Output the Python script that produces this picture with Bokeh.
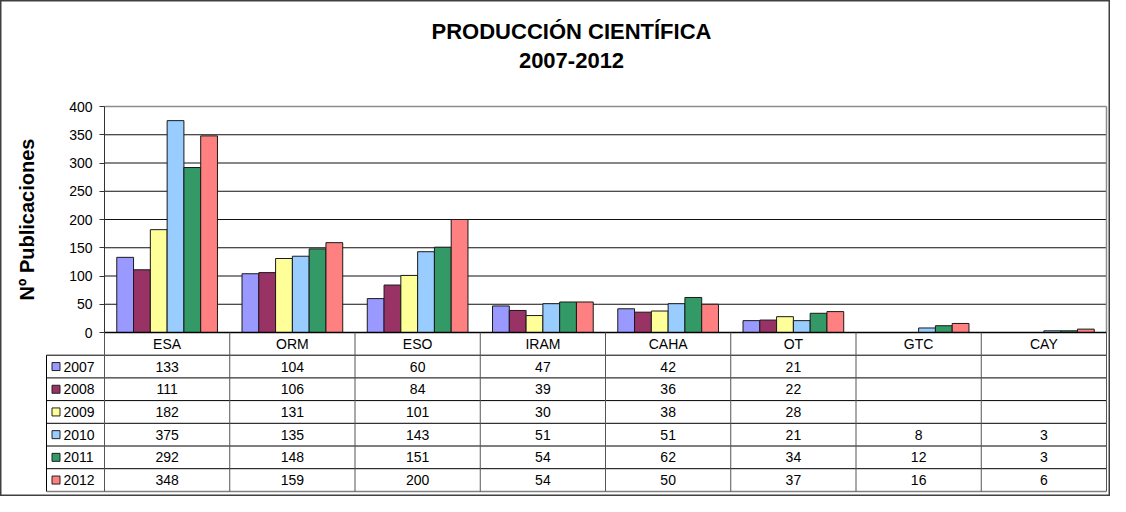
from bokeh.plotting import figure
from bokeh.models import Range1d, LinearAxis, FixedTicker, ColumnDataSource
from bokeh.embed import file_html
from bokeh.resources import INLINE
from bokeh.core.properties import value
import numpy as np

# ---------------- data ----------------
title_lines = ["PRODUCCIÓN CIENTÍFICA", "2007-2012"]
y_title = "Nº Publicaciones"
categories = ["ESA", "ORM", "ESO", "IRAM", "CAHA", "OT", "GTC", "CAY"]
years = ["2007", "2008", "2009", "2010", "2011", "2012"]
v2007 = [133, 104, 60, 47, 42, 21, None, None]
v2008 = [111, 106, 84, 39, 36, 22, None, None]
v2009 = [182, 131, 101, 30, 38, 28, None, None]
v2010 = [375, 135, 143, 51, 51, 21, 8, 3]
v2011 = [292, 148, 151, 54, 62, 34, 12, 3]
v2012 = [348, 159, 200, 54, 50, 37, 16, 6]
series = [v2007, v2008, v2009, v2010, v2011, v2012]
y_ticks = [0, 50, 100, 150, 200, 250, 300, 350, 400]
colors = ["#9999FF", "#993366", "#FFFF99", "#99CCFF", "#339966", "#FF8080"]

# ---------------- layout (canvas px) ----------------
W, H = 1110, 496
plot_left, plot_right = 104, 1106
plot_top, zero_y = 106, 332
row_h = 22.7
legend_w_px = 58
FONT = "Liberation Sans"
FS = "14px"

n = len(categories)
cw = (plot_right - plot_left) / n
ymax = y_ticks[-1]
ppu = (zero_y - plot_top) / ymax

p = figure(width=W, height=H, output_backend="svg", toolbar_location=None,
           x_axis_type=None, y_axis_type=None,
           x_range=Range1d(-plot_left / cw, n + (W - plot_right) / cw),
           y_range=Range1d(-(H - zero_y) / ppu, ymax + plot_top / ppu),
           min_border=0, min_border_left=0, min_border_right=0,
           min_border_top=0, min_border_bottom=0)
p.extra_y_ranges = {"table": Range1d(-(H - zero_y) / row_h, zero_y / row_h),
                    "pxy": Range1d(0, H)}
p.extra_x_ranges = {"pxx": Range1d(0, W)}
p.xgrid.visible = False
p.ygrid.visible = False
p.outline_line_color = "#404040"
p.outline_line_width = 2
p.background_fill_color = "white"
p.border_fill_color = "white"

# plot-area grid and border
grid_vals = y_ticks[1:-1]
p.segment(x0=[0] * len(grid_vals), x1=[n] * len(grid_vals), y0=grid_vals, y1=grid_vals,
          line_color="#111111", line_width=1)
p.segment(x0=[0, n], x1=[n, n], y0=[ymax, 0], y1=[ymax, ymax], line_color="#8c8c8c", line_width=1.5)

# bars
bw = 0.134
xc = np.arange(n) + 0.5
for j, (yr, vals, col) in enumerate(zip(years, series, colors)):
    tops = [np.nan if v is None else v for v in vals]
    src = ColumnDataSource(dict(x=xc + (j - 2.5) * bw, top=tops))
    p.vbar(x="x", top="top", bottom=0, width=bw, source=src,
           fill_color=col, line_color="#1a1a1a", line_width=1)

# y axis
yax = LinearAxis(fixed_location=0, bounds=(0, ymax), ticker=FixedTicker(ticks=y_ticks))
yax.axis_label = y_title
yax.axis_label_text_font = FONT
yax.axis_label_text_font_style = "bold"
yax.axis_label_text_font_size = "20px"
yax.axis_label_text_color = "black"
yax.axis_label_standoff = 28
yax.major_label_text_font = FONT
yax.major_label_text_font_size = FS
yax.major_label_text_color = "black"
yax.major_label_standoff = 7
yax.major_tick_out = 5
yax.major_tick_in = 0
yax.minor_tick_out = 0
yax.minor_tick_in = 0
yax.axis_line_color = "#333333"
yax.major_tick_line_color = "#333333"
p.add_layout(yax, "left")

# ---------------- data table ----------------
nrows = len(years) + 1
lw = legend_w_px / cw
# horizontal lines
p.segment(x0=[0], x1=[n], y0=[0], y1=[0], y_range_name="table", line_color="black", line_width=1.5)
hl = list(range(1, nrows))
p.segment(x0=[-lw] * len(hl), x1=[n] * len(hl), y0=[-k for k in hl], y1=[-k for k in hl],
          y_range_name="table", line_color="black", line_width=1)
p.segment(x0=[-lw], x1=[n], y0=[-nrows], y1=[-nrows], y_range_name="table",
          line_color="#808080", line_width=1.5)
# vertical lines
vx = list(range(0, n + 1))
p.segment(x0=vx, x1=vx, y0=[0] * len(vx), y1=[-nrows] * len(vx), y_range_name="table",
          line_color="#555555", line_width=1)
p.segment(x0=[-lw], x1=[-lw], y0=[-1], y1=[-nrows], y_range_name="table",
          line_color="black", line_width=1)

# header labels
p.text(x=list(xc), y=[-0.5] * n, text=categories, y_range_name="table",
       text_font=value(FONT), text_font_size=FS, text_color="black",
       text_align="center", text_baseline="middle")
# values
tx, ty, tt = [], [], []
for j, vals in enumerate(series):
    for i, v in enumerate(vals):
        if v is not None:
            tx.append(xc[i]); ty.append(-(j + 1.5)); tt.append(str(v))
p.text(x=tx, y=ty, text=tt, y_range_name="table",
       text_font=value(FONT), text_font_size=FS, text_color="black",
       text_align="center", text_baseline="middle")
# legend keys
ly = [-(j + 1.5) for j in range(len(years))]
p.scatter(x=[-lw + 9.5 / cw] * len(years), y=ly, marker="square", size=8,
          fill_color=colors, line_color="#222222", line_width=1, y_range_name="table")
p.text(x=[-lw + 17 / cw] * len(years), y=ly, text=years, y_range_name="table",
       text_font=value(FONT), text_font_size=FS, text_color="black",
       text_align="left", text_baseline="middle")

# title
p.text(x=[W / 2 + 16, W / 2 + 16], y=[H - 31, H - 60], text=title_lines,
       x_range_name="pxx", y_range_name="pxy",
       text_font=value(FONT), text_font_size="22px", text_font_style="bold",
       text_color="black", text_align="center", text_baseline="middle")

open("out.html", "w").write(file_html(p, INLINE))
